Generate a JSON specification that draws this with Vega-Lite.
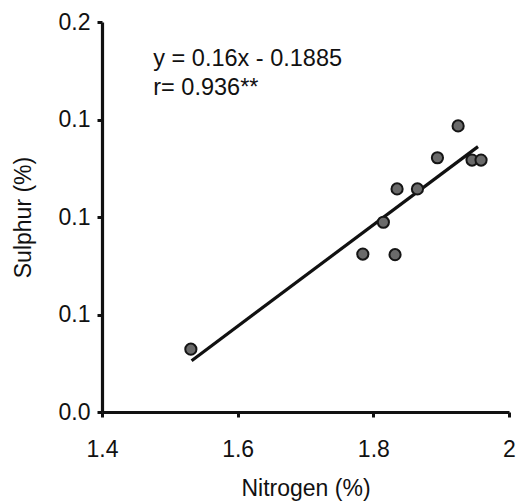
{
  "$schema": "https://vega.github.io/schema/vega-lite/v6.json",
  "width": 407,
  "height": 390,
  "autosize": {"type": "none"},
  "padding": {"left": 102, "top": 22, "right": 7, "bottom": 92},
  "background": "white",
  "config": {
    "view": {"stroke": null},
    "font": "Liberation Sans",
    "axis": {
      "grid": false,
      "domainColor": "#111",
      "domainWidth": 3.2,
      "tickColor": "#111",
      "tickWidth": 3,
      "tickSize": 5,
      "labelColor": "#111",
      "labelFont": "Liberation Sans",
      "labelFontSize": 23,
      "titleFont": "Liberation Sans",
      "titleFontSize": 23,
      "titleFontWeight": "normal",
      "titleColor": "#111"
    }
  },
  "datasets": {
    "points": [
      {"nitrogen": 1.531, "sulphur": 0.0322},
      {"nitrogen": 1.7845, "sulphur": 0.081},
      {"nitrogen": 1.832, "sulphur": 0.0807},
      {"nitrogen": 1.8148, "sulphur": 0.0973},
      {"nitrogen": 1.835, "sulphur": 0.1144},
      {"nitrogen": 1.865, "sulphur": 0.1144},
      {"nitrogen": 1.8945, "sulphur": 0.1304},
      {"nitrogen": 1.925, "sulphur": 0.1467},
      {"nitrogen": 1.9455, "sulphur": 0.1292},
      {"nitrogen": 1.9588, "sulphur": 0.1292}
    ],
    "fit": [
      {"nitrogen": 1.5321, "sulphur": 0.0263},
      {"nitrogen": 1.9543, "sulphur": 0.1361}
    ],
    "labels": [
      {"nitrogen": 1.4756, "sulphur": 0.1774, "text": "y = 0.16x - 0.1885"},
      {"nitrogen": 1.4756, "sulphur": 0.1626, "text": "r= 0.936**"}
    ]
  },
  "layer": [
    {
      "data": {"name": "fit"},
      "mark": {"type": "line", "color": "#111", "strokeWidth": 3.2},
      "encoding": {
        "x": {
          "field": "nitrogen", "type": "quantitative",
          "scale": {"domain": [1.4, 2.0], "nice": false, "zero": false},
          "axis": {
            "title": "Nitrogen (%)",
            "values": [1.4, 1.6, 1.8, 2.0],
            "labelExpr": "datum.value > 1.99 ? '2' : format(datum.value, '.1f')",
            "labelPadding": 21,
            "titlePadding": 16,
            "labelFlush": false
          }
        },
        "y": {
          "field": "sulphur", "type": "quantitative",
          "scale": {"domain": [0, 0.2], "nice": false},
          "axis": {
            "title": "Sulphur (%)",
            "values": [0, 0.05, 0.1, 0.15, 0.2],
            "labelExpr": "datum.value < 0.01 ? '0.0' : (datum.value > 0.19 ? '0.2' : '0.1')",
            "labelPadding": 7,
            "titlePadding": 23,
            "labelFlush": false
          }
        }
      }
    },
    {
      "data": {"name": "points"},
      "mark": {"type": "point", "filled": true, "fill": "#6a6a6a", "stroke": "#151515", "strokeWidth": 2, "size": 125, "opacity": 1},
      "encoding": {
        "x": {"field": "nitrogen", "type": "quantitative"},
        "y": {"field": "sulphur", "type": "quantitative"}
      }
    },
    {
      "data": {"name": "labels"},
      "mark": {"type": "text", "align": "left", "baseline": "alphabetic", "fontSize": 23.5, "font": "Liberation Sans", "color": "#111"},
      "encoding": {
        "x": {"field": "nitrogen", "type": "quantitative"},
        "y": {"field": "sulphur", "type": "quantitative"},
        "text": {"field": "text"}
      }
    }
  ]
}
